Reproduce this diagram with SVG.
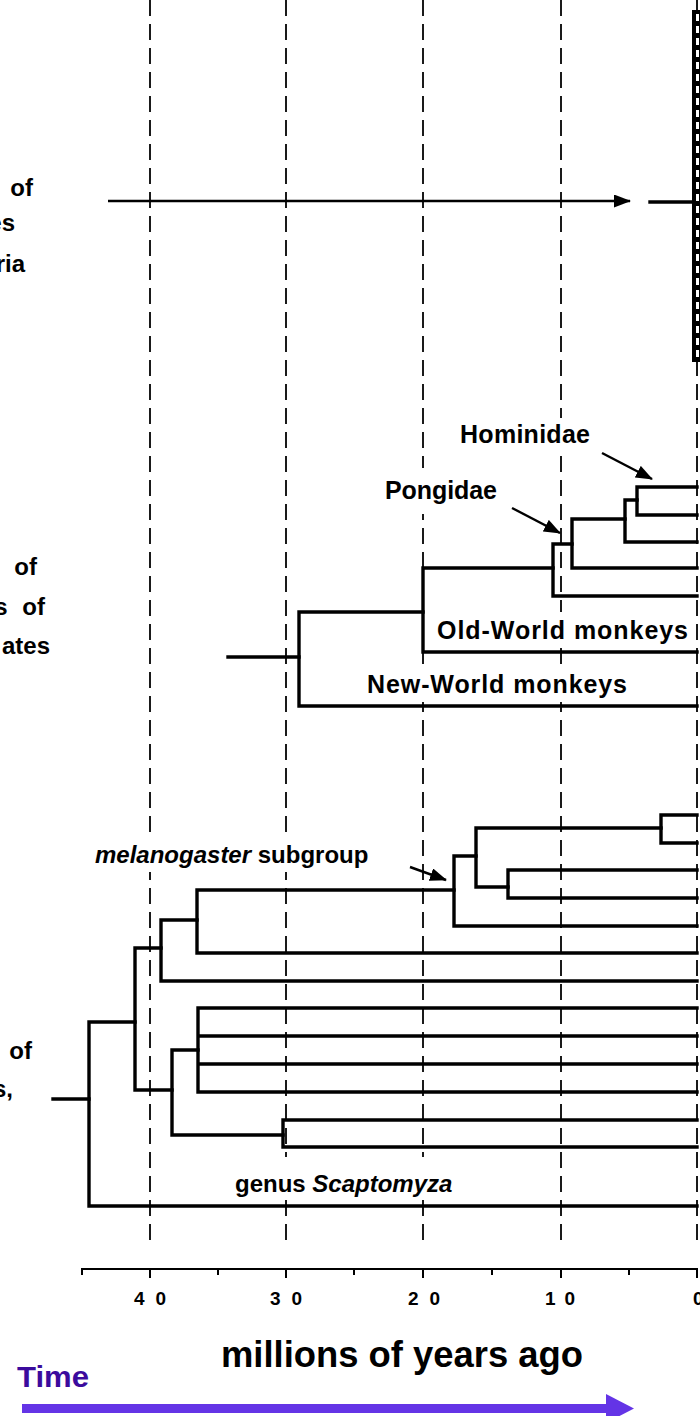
<svg xmlns="http://www.w3.org/2000/svg" width="700" height="1416" viewBox="0 0 700 1416">
<style>
.bg{fill:#fff}
.dash{stroke:#1a1a1a;stroke-width:2;stroke-dasharray:16 8;fill:none}
.br{stroke:#000;stroke-width:3.4;fill:none;stroke-linejoin:miter;stroke-linecap:square}
.ar{stroke:#000;stroke-width:2.4;fill:none}
.lb{font-family:"Liberation Sans",Arial,sans-serif;font-weight:bold;font-size:24px;fill:#000}
.big{font-size:25px}
.it{font-style:italic}
.ax{stroke:#000;stroke-width:2;fill:none}
.num{font-family:"Liberation Sans",Arial,sans-serif;font-weight:bold;font-size:19px;fill:#000}
</style>
<defs>
<marker id="ah" markerUnits="userSpaceOnUse" markerWidth="17" markerHeight="13" refX="16" refY="6.5" orient="auto">
<path d="M0,0 L17,6.5 L0,13 z" fill="#000"/>
</marker>
</defs>
<rect class="bg" x="0" y="0" width="700" height="1416"/>

<g id="gridlines">
<line class="dash" x1="150" y1="0" x2="150" y2="1246"/>
<line class="dash" x1="286" y1="0" x2="286" y2="1246"/>
<line class="dash" x1="423" y1="0" x2="423" y2="1246"/>
<line class="dash" x1="561" y1="0" x2="561" y2="1246"/>
<line class="dash" x1="697" y1="0" x2="697" y2="1246"/>
</g>

<g id="label-masks">
<rect class="bg" x="455" y="418" width="140" height="32"/>
<rect class="bg" x="380" y="468" width="122" height="46"/>
<rect class="bg" x="432" y="612" width="260" height="34"/>
<rect class="bg" x="362" y="666" width="270" height="36"/>
<rect class="bg" x="90" y="838" width="312" height="34"/>
<rect class="bg" x="230" y="1157" width="245" height="40"/>
</g>

<g id="mitochondria">
<rect x="692" y="10" width="12" height="352" fill="#000"/>
<line x1="697.5" y1="14" x2="697.5" y2="358" stroke="#fff" stroke-width="3" stroke-dasharray="7 5"/>
<text class="lb" x="33" y="196" text-anchor="end">of</text>
<text class="lb" x="15" y="231" text-anchor="end">es</text>
<text class="lb" x="25" y="272" text-anchor="end">ria</text>
</g>

<g id="primates">
<text class="lb" x="37" y="575" text-anchor="end">of</text>
<text class="lb" x="45" y="615" text-anchor="end" word-spacing="8">s of</text>
<text class="lb" x="50" y="654" text-anchor="end">ates</text>
<text class="lb big" x="460" y="443" textLength="130" lengthAdjust="spacing">Hominidae</text>
<text class="lb big" x="385" y="499" textLength="112" lengthAdjust="spacing">Pongidae</text>
<text class="lb big" x="437" y="639" textLength="251" lengthAdjust="spacing">Old-World monkeys</text>
<text class="lb big" x="367" y="693" textLength="260" lengthAdjust="spacing">New-World monkeys</text>
</g>

<g id="drosophila">
<text class="lb" x="32" y="1059" text-anchor="end">of</text>
<text class="lb" x="13" y="1097" text-anchor="end">s,</text>
<text class="lb" x="95" y="863"><tspan class="it">melanogaster</tspan> subgroup</text>
<text class="lb" x="235" y="1192">genus <tspan class="it">Scaptomyza</tspan></text>
</g>

<g id="connectors">
<line class="ar" x1="108" y1="201" x2="630" y2="201" marker-end="url(#ah)"/>
<path class="br" d="M650 202 H692"/>
<line class="ar" x1="602" y1="453" x2="652" y2="479" marker-end="url(#ah)"/>
<line class="ar" x1="512" y1="508" x2="560" y2="533" marker-end="url(#ah)"/>
<line class="ar" x1="410" y1="867" x2="446" y2="880" marker-end="url(#ah)"/>

<path class="br" d="M697 487 H637 V515 H697"/>
<path class="br" d="M637 500 H625 V542 H697"/>
<path class="br" d="M625 519 H572 V568 H697"/>
<path class="br" d="M572 544 H553 V596 H697"/>
<path class="br" d="M553 568 H423 V652 H697"/>
<path class="br" d="M423 612 H299 V706 H697"/>
<path class="br" d="M228 657 H299"/>

<path class="br" d="M697 815 H661 V843 H697"/>
<path class="br" d="M697 870 H508 V898 H697"/>
<path class="br" d="M661 828 H476 V887 H508"/>
<path class="br" d="M476 856 H454 V926 H697"/>
<path class="br" d="M454 890 H197 V953 H697"/>
<path class="br" d="M197 920 H161 V981 H697"/>
<path class="br" d="M697 1008 H198 V1092 H697 M198 1036 H697 M198 1064 H697"/>
<path class="br" d="M697 1120 H283 V1147 H697"/>
<path class="br" d="M198 1050 H172 V1135 H283"/>
<path class="br" d="M161 948 H135 V1090 H172"/>
<path class="br" d="M135 1022 H89 V1206 H697"/>
<path class="br" d="M53 1099 H89"/>
</g>

<g id="axis">
<path class="ax" d="M82 1275 V1269 H697 V1278"/>
<path class="ax" d="M150 1269 V1278 M286 1269 V1278 M423 1269 V1278 M561 1269 V1278"/>
<path class="ax" d="M218 1269 V1275 M354 1269 V1275 M492 1269 V1275 M629 1269 V1275"/>
<text class="num" x="150" y="1305" text-anchor="middle" textLength="32" lengthAdjust="spacing">40</text>
<text class="num" x="286" y="1305" text-anchor="middle" textLength="32" lengthAdjust="spacing">30</text>
<text class="num" x="424" y="1305" text-anchor="middle" textLength="32" lengthAdjust="spacing">20</text>
<text class="num" x="560" y="1305" text-anchor="middle" textLength="30" lengthAdjust="spacing">10</text>
<text class="num" x="693" y="1305">0</text>
<text class="lb" x="221" y="1367" style="font-size:36px" textLength="362" lengthAdjust="spacingAndGlyphs">millions of years ago</text>
</g>

<g id="time">
<text class="lb" x="17" y="1387" style="font-size:30px;fill:#3b0b9d" textLength="72" lengthAdjust="spacingAndGlyphs">Time</text>
<rect x="22" y="1404" width="590" height="9" fill="#6434e6"/>
<polygon points="606,1394 634,1408.5 606,1423" fill="#6434e6"/>
</g>
</svg>
